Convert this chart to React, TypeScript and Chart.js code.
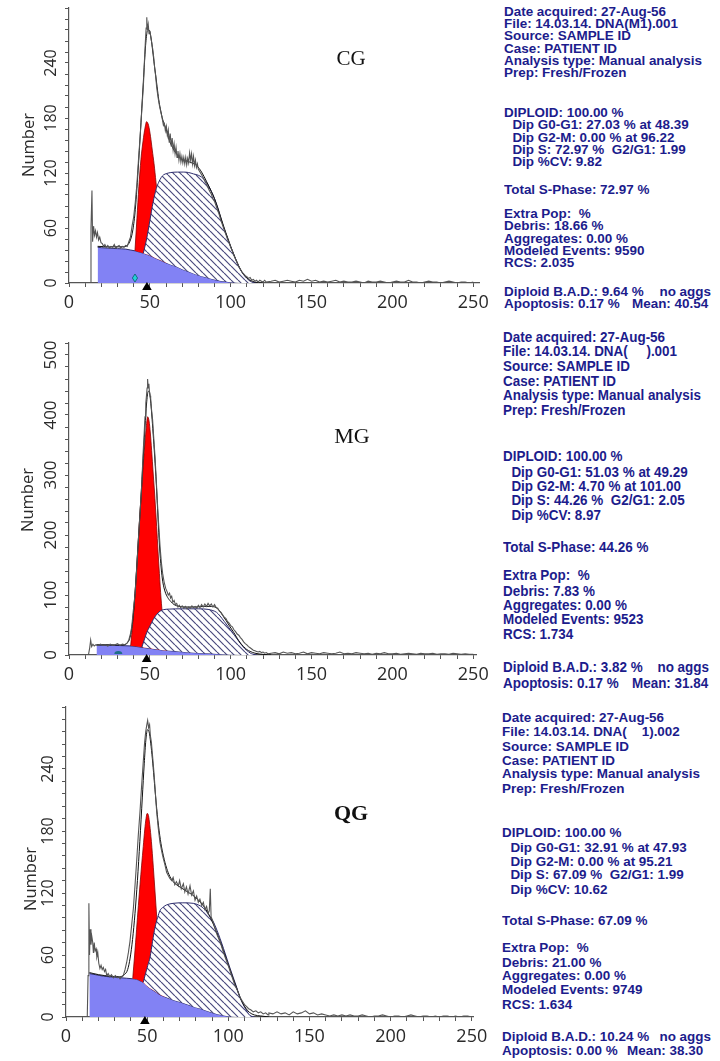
import React, { useEffect, useRef } from 'react';
import { Chart, registerables } from 'chart.js';

Chart.register(...registerables);

type Pt = [number, number];

// ---------------- data ----------------
const tailX = [125, 127.5, 130, 132.5, 135, 137.5, 140, 142.5, 145, 147.5, 150, 152.5, 155, 157.5, 160, 162.5, 165, 167.5, 170, 172.5, 175, 177.5, 180, 182.5, 185, 187.5, 190, 192.5, 195, 197.5, 200, 202.5, 205, 207.5, 210, 212.5, 215, 217.5, 220, 222.5, 225, 227.5, 230, 232.5, 235, 237.5, 240, 242.5, 245, 247.5, 250];

// CG
const cgDebris: Pt[] = [[17.7, 39], [20, 38.5], [25, 38], [30, 37.5], [35, 37], [38, 36], [41, 35], [44, 33.5], [46, 32.5], [50, 30], [53, 27.5], [56.3, 25], [60, 22], [63, 20], [66.6, 17.8], [70, 15], [73, 13], [76.9, 10.5], [80, 8.5], [84, 6.5], [87.2, 5], [91, 3.2], [94, 2.2], [97.5, 1.5], [100, 0.8], [104, 0.2], [108, 0], [116, 0]];
const cgG1: Pt[] = [[40.8, 35.2], [42, 70], [43.2, 105], [44.5, 135], [45.8, 155], [47, 169], [48, 176], [49.2, 172], [50.4, 160], [51.5, 145], [52.6, 130], [53.8, 110], [55, 90], [56.5, 68], [58, 46], [59.3, 32], [60.5, 22.5]];
const cgS: Pt[] = [[46, 32.6], [48, 48], [50, 68], [52, 88], [54, 103], [55.5, 110], [57, 115], [58.5, 118], [60.5, 119.5], [63, 120.5], [67, 121], [71, 121], [74, 120.5], [77, 119], [80, 117.5], [82, 115.5], [84, 112], [86, 107], [88, 100], [90, 92], [92, 82], [94, 70], [96, 59], [98, 49], [100, 39.5], [102, 30.5], [104, 22], [106, 14.5], [108, 9], [110, 5], [112, 2], [114, 0.5], [116, 0]];
const cgFit: Pt[] = [[17.7, 40], [25, 39.5], [33, 39.5], [36, 41], [38, 47], [39.5, 58], [41, 80], [43, 130], [45, 190], [46.5, 235], [47.5, 262], [48.5, 275], [49.5, 276], [50.5, 270], [51.5, 257], [52.5, 242], [53.5, 228], [54.5, 214], [55.5, 200], [56.5, 190], [58, 178], [60, 168], [62, 156], [64, 148], [66, 142], [68, 138], [70, 135], [73, 133], [76, 131], [79, 128], [82, 121], [85, 111], [88, 100], [90, 92], [92, 82], [94, 71], [96, 60], [98, 50], [100, 40], [102, 31], [104, 22.5], [106, 15], [108, 9.5], [110, 5.5], [112, 3], [115, 1], [120, 0]];
const cgRaw: Pt[] = [[13, 0], [13.6, 60], [14.2, 101], [14.6, 45], [15.2, 62], [15.8, 52], [16.4, 57], [17, 50], [17.6, 55], [18.3, 47], [19, 50], [19.8, 44], [20.6, 43], [21.4, 40], [22.2, 42], [23, 39], [24, 41], [25, 38], [26, 40], [27, 39], [28, 42], [29, 38], [30, 40], [31, 41], [32, 38], [33, 40], [34, 39], [35, 41], [36, 40], [37, 45], [38, 50], [39, 62], [40, 72], [41, 88], [42, 108], [43, 135], [44, 160], [45, 188], [46, 215], [46.6, 240], [47.2, 262], [47.7, 278], [48.1, 290], [48.5, 276], [49, 282], [49.5, 272], [50, 275], [50.6, 268], [51.2, 262], [51.8, 255], [52.4, 246], [53, 234], [53.6, 226], [54.2, 214], [54.8, 206], [55.4, 199], [56, 193], [56.6, 188], [57.2, 183], [57.8, 178], [58.4, 172], [59, 174], [59.6, 166], [60.2, 171], [60.8, 161], [61.4, 167], [62, 153], [62.6, 163], [63.2, 149], [63.8, 158], [64.4, 145], [65, 152], [65.6, 141], [66.2, 148], [66.8, 137], [67.4, 144], [68, 134], [68.6, 141], [69.2, 132], [69.8, 138], [70.4, 131], [71, 137], [71.6, 130], [72.2, 137], [72.8, 129], [73.4, 136], [74, 131], [74.6, 142], [75.2, 134], [75.8, 141], [76.4, 130], [77, 138], [77.6, 128], [78.2, 134], [78.8, 126], [79.4, 130], [80, 124], [81, 121], [82, 118], [83, 115], [84, 111], [85, 108], [86, 104], [87, 100], [88, 97], [89, 92], [90, 89], [91, 84], [92, 79], [93, 74], [94, 68], [95, 63], [96, 58], [97, 53], [98, 48], [99, 44], [100, 39], [101, 35], [102, 30], [103, 26], [104, 22], [105, 18], [106, 15], [107, 12], [108, 10], [109, 8], [110, 7], [111, 5], [112, 6], [113, 3], [114, 4], [115, 2], [116, 3], [117, 1], [118, 3], [119, 2], [120, 1], [121, 3], [122, 1]];
const cgTail = [2, 3, 1, 2, 3, 2, 1, 3, 2, 4, 2, 3, 1, 2, 1, 2, 3, 1, 2, 1, 1, 2, 1, 0, 2, 1, 1, 2, 1, 0, 1, 2, 1, 1, 3, 1, 1, 0, 1, 2, 1, 1, 0, 1, 2, 1, 0, 1, 1, 0, 1];

// MG
const mgDebris: Pt[] = [[17, 16.5], [22, 16.5], [28, 16], [34, 15.5], [39, 15], [42, 14], [46, 12.5], [51.5, 10.5], [57, 8.5], [63, 7], [68, 5.8], [75, 4.3], [84.5, 2.8], [92, 1.8], [97, 1], [103, 0.3], [110, 0], [116, 0]];
const mgG1: Pt[] = [[38.1, 15.2], [39.5, 55], [40.9, 105], [42.2, 160], [43.5, 220], [44.9, 275], [46, 320], [47, 355], [47.8, 380], [48.6, 397], [49.5, 390], [50.3, 370], [51.1, 341], [52, 305], [52.8, 275], [53.5, 245], [54.2, 214], [55, 175], [55.9, 136], [56.9, 95], [58, 60], [59.2, 30], [60.5, 9]];
const mgS: Pt[] = [[45, 12.8], [46.5, 25], [48, 37], [50, 48], [52.1, 59], [54, 67], [56.3, 73], [58.3, 75.5], [62, 76.5], [70, 77], [80, 77], [86, 76], [89, 74], [91.3, 71], [93.4, 65], [96, 56], [99.6, 43], [102.5, 32], [105.8, 20], [108.5, 11], [110.9, 5.5], [113, 2], [116, 0]];
const mgFit: Pt[] = [[17, 17], [25, 17], [33, 16.5], [36, 20], [38, 32], [39.5, 60], [41, 110], [42.5, 175], [44, 240], [45.5, 310], [47, 380], [48, 420], [48.8, 438], [49.6, 440], [50.4, 425], [51.2, 400], [52, 370], [53, 330], [54, 285], [55, 230], [56, 180], [57, 145], [58, 122], [59.5, 105], [61, 96], [63, 89], [65, 84], [68, 81], [72, 80], [78, 80], [84, 81], [88, 81], [91, 79], [93, 74], [95, 66], [97, 58], [99.6, 47], [102, 37], [104, 28], [106, 20], [108, 14], [110, 9], [112, 6], [115, 3], [120, 1], [125, 0]];
const mgRaw: Pt[] = [[12, 0], [12.8, 12], [13.4, 25], [14, 14], [14.8, 18], [15.6, 15], [16.5, 17], [18, 16], [19.5, 18], [21, 16], [22.5, 17], [24, 15], [25.5, 18], [27, 16], [28.5, 17], [30, 19], [31.5, 16], [33, 18], [34.5, 17], [36, 20], [37, 25], [38, 35], [38.8, 47], [39.8, 75], [40.9, 103], [41.9, 145], [42.9, 192], [43.9, 236], [44.9, 280], [45.9, 340], [46.5, 370], [47, 397], [47.5, 420], [48, 435], [48.3, 445], [48.6, 460], [49, 445], [49.4, 452], [49.7, 440], [50.1, 432], [50.5, 428], [51, 410], [51.7, 392], [52.4, 362], [53.2, 330], [53.9, 295], [54.6, 258], [55.4, 220], [56.3, 181], [57.1, 155], [57.9, 136], [58.8, 122], [59.8, 111], [60.6, 106], [61.4, 100], [62.2, 103], [62.8, 95], [63.5, 98], [64.2, 88], [65, 91], [65.8, 84], [66.6, 86], [67.4, 80], [68.2, 83], [69, 79], [70, 82], [71, 78], [72, 81], [73, 77], [74, 80], [75, 78], [76, 82], [77, 79], [78, 81], [79, 78], [80, 83], [81, 79], [82, 84], [83, 80], [84, 85], [85, 81], [86, 86], [87, 82], [88, 85], [89, 80], [90, 84], [91, 79], [92, 78], [93, 73], [94, 71], [95, 67], [96, 63], [97, 61], [98, 56], [99, 53], [100, 49], [101, 47], [102, 42], [103, 39], [104, 35], [105, 33], [106, 29], [107, 26], [108, 22], [109, 19], [110, 17], [111, 14], [112, 12], [113, 10], [114, 8], [115, 7], [116, 6], [117, 5], [118, 6], [119, 4], [120, 5], [121, 3], [122, 4], [123, 2]];
const mgTail = [3, 4, 2, 5, 3, 4, 2, 3, 5, 2, 4, 3, 2, 4, 3, 2, 3, 5, 2, 3, 2, 4, 3, 2, 3, 1, 3, 2, 4, 2, 2, 3, 1, 2, 3, 2, 1, 3, 2, 2, 3, 1, 2, 2, 1, 3, 2, 1, 2, 1, 1];

// QG
const qgDebris: Pt[] = [[14.4, 42], [18, 41], [23, 39.5], [30, 38.5], [37.4, 37.5], [41, 37], [43.5, 36.5], [45.6, 35], [47.6, 33.5], [50, 30], [53, 26.5], [55.5, 24], [57.9, 21.5], [61, 19.5], [65, 17], [70.2, 14.5], [75, 12], [78.4, 10], [82.6, 8.2], [87, 5.8], [90.8, 3.8], [94.9, 2.2], [99, 1], [103, 0.2], [108, 0], [116, 0]];
const qgG1: Pt[] = [[41.1, 37.1], [42.3, 60], [43.5, 85], [44.6, 108], [45.6, 128], [46.6, 147], [47.6, 165], [48.5, 181], [49.3, 192], [50, 197], [50.8, 195], [51.6, 186], [52.6, 170], [53.8, 145], [54.9, 120], [55.9, 97], [57, 75], [58.3, 52], [59.6, 33], [61, 20.5]];
const qgS: Pt[] = [[47.6, 33.6], [49, 42], [50.4, 50], [51.8, 58], [53.3, 73], [54.9, 87], [56.4, 96], [57.9, 103], [60, 106.5], [62, 108.5], [66, 110], [72, 110.5], [78.4, 110], [81.5, 108.5], [84.6, 105.5], [87.5, 100], [90.8, 92], [93, 84], [94.9, 76], [97, 66.5], [99, 57], [101, 47.5], [103.1, 38], [105.2, 28.5], [107.2, 19], [109.2, 12], [111.3, 6], [113.4, 1.5], [116, 0]];
const qgFit: Pt[] = [[14.4, 43], [20, 41], [27, 39.5], [33, 39], [36, 41], [38, 46], [39.5, 57], [41, 75], [42.5, 100], [44, 132], [45.5, 170], [47, 212], [48.2, 245], [49.2, 268], [50.2, 278], [51.2, 276], [52.2, 265], [53.2, 250], [54.2, 232], [55.5, 208], [57, 185], [58.5, 168], [60, 156], [62, 144], [64, 136], [66, 131], [69, 127], [72, 124], [75, 121], [78, 118], [81, 114], [84, 109], [87, 102], [89, 96], [91, 89], [93, 81], [95, 73], [97, 64], [99, 55], [101, 46], [103, 37], [105, 28.5], [107, 20], [109, 13], [111, 8], [113, 4.5], [116, 2], [120, 1], [125, 0]];
const qgRaw: Pt[] = [[13.1, 0], [13.6, 40], [14.1, 110], [14.5, 60], [14.9, 85], [15.4, 70], [15.9, 78], [16.4, 73], [16.9, 62], [17.4, 72], [17.9, 64], [18.5, 66], [19, 58], [19.6, 62], [20.2, 52], [20.9, 47], [21.6, 50], [22.3, 46], [23, 48], [23.7, 44], [24.4, 46], [25.1, 40], [26, 42], [27, 39], [28, 41], [29.2, 38], [30.4, 40], [31.5, 38], [32.5, 39], [33.3, 37], [34.3, 39], [35.3, 40], [36.4, 46], [37.4, 53], [38.4, 62], [39.4, 73], [40.4, 88], [41.5, 105], [42.5, 127], [43.5, 150], [44.5, 175], [45.6, 199], [46.6, 224], [47.6, 247], [48.4, 265], [49.1, 276], [49.7, 282], [50.3, 287], [50.9, 280], [51.5, 283], [52, 272], [52.6, 266], [53.2, 255], [53.8, 244], [54.4, 232], [55.1, 216], [55.9, 198], [56.9, 182], [57.9, 169], [59, 160], [60, 153], [61, 147], [62, 140], [63, 137], [64, 134], [65.1, 132], [66, 135], [67, 128], [68, 131], [69.2, 127], [70, 132], [71, 124], [72.3, 129], [73.2, 121], [74.2, 126], [75.2, 119], [76.4, 127], [77.4, 118], [78.5, 122], [79.5, 113], [80.5, 117], [81.5, 111], [82.5, 114], [83.6, 108], [84.6, 111], [85.6, 104], [86.6, 107], [87.6, 100], [88.3, 103], [88.9, 124], [89.4, 97], [90.4, 93], [91.8, 86], [93.2, 79], [94.9, 73], [96.5, 65], [98, 58], [99.5, 52], [101, 45], [102.5, 38], [104, 31], [105.5, 26], [107.2, 19], [108.8, 15], [110, 12], [111.3, 10], [112.5, 8], [113.8, 7], [115.4, 5], [117, 6], [118.5, 4], [120, 5], [121.5, 3], [123, 4], [124.5, 2]];
const qgTail = [4, 3, 5, 3, 4, 2, 5, 3, 4, 6, 3, 4, 2, 3, 2, 1, 2, 1, 2, 1, 2, 1, 1, 2, 1, 0, 1, 1, 2, 1, 0, 1, 1, 0, 1, 2, 1, 0, 1, 1, 0, 1, 0, 1, 1, 0, 1, 0, 1, 1, 0];

// marker positions (x values)
const g1Markers = [48.2, 48.0, 48.6];

// texts
const cgInfo = ['Date acquired: 27-Aug-56', 'File: 14.03.14. DNA(M1).001', 'Source: SAMPLE ID', 'Case: PATIENT ID', 'Analysis type: Manual analysis', 'Prep: Fresh/Frozen', 'DIPLOID: 100.00 %', 'Dip G0-G1: 27.03 % at 48.39', 'Dip G2-M: 0.00 % at 96.22', 'Dip S: 72.97 %  G2/G1: 1.99', 'Dip %CV: 9.82', 'Total S-Phase: 72.97 %', 'Extra Pop:  %', 'Debris: 18.66 %', 'Aggregates: 0.00 %', 'Modeled Events: 9590', 'RCS: 2.035', 'Diploid B.A.D.: 9.64 %', 'Apoptosis: 0.17 %'];
const cgInfoTail = ['no aggs', 'Mean: 40.54'];
const mgInfo = ['Date acquired: 27-Aug-56', 'File: 14.03.14. DNA(     ).001', 'Source: SAMPLE ID', 'Case: PATIENT ID', 'Analysis type: Manual analysis', 'Prep: Fresh/Frozen', 'DIPLOID: 100.00 %', 'Dip G0-G1: 51.03 % at 49.29', 'Dip G2-M: 4.70 % at 101.00', 'Dip S: 44.26 %  G2/G1: 2.05', 'Dip %CV: 8.97', 'Total S-Phase: 44.26 %', 'Extra Pop:  %', 'Debris: 7.83 %', 'Aggregates: 0.00 %', 'Modeled Events: 9523', 'RCS: 1.734', 'Diploid B.A.D.: 3.82 %', 'Apoptosis: 0.17 %'];
const mgInfoTail = ['no aggs', 'Mean: 31.84'];
const qgInfo = ['Date acquired: 27-Aug-56', 'File: 14.03.14. DNA(    1).002', 'Source: SAMPLE ID', 'Case: PATIENT ID', 'Analysis type: Manual analysis', 'Prep: Fresh/Frozen', 'DIPLOID: 100.00 %', 'Dip G0-G1: 32.91 % at 47.93', 'Dip G2-M: 0.00 % at 95.21', 'Dip S: 67.09 %  G2/G1: 1.99', 'Dip %CV: 10.62', 'Total S-Phase: 67.09 %', 'Extra Pop:  %', 'Debris: 21.00 %', 'Aggregates: 0.00 %', 'Modeled Events: 9749', 'RCS: 1.634', 'Diploid B.A.D.: 10.24 %', 'Apoptosis: 0.00 %'];
const qgInfoTail = ['no aggs', 'Mean: 38.30'];
const groupNames = ['CG', 'MG', 'QG'];

// ---------------- layout ----------------
const infoOffsets = [0, 12.3, 24.6, 36.9, 49.2, 61.5, 101.3, 113.6, 125.9, 138.2, 150.5, 178.3, 202.3, 214.6, 226.9, 239.2, 251.5, 280.3, 292.6];

const panels = [
  { name: groupNames[0], debris: cgDebris, g1: cgG1, s: cgS, fit: cgFit, raw: cgRaw, tail: cgTail, marker: g1Markers[0], info: cgInfo, infoTail: cgInfoTail,
    top: 0, h: 315, padTop: 8, padRight: 20.3, yW: 69, xMax: 254, yMax: 300, yStep: 12, yLab: 60, yLabMax: 240, yFont: 16, numX: 29.5, numY: 145,
    infoLeft: 504, infoTop: 11.7, infoSy: 1, aggsEnd: 711, meanX: 632, title: { x: 351, y: 58, bold: false, size: 21 }, extra: 'diamond', extraX: 40.8 },
  { name: groupNames[1], debris: mgDebris, g1: mgG1, s: mgS, fit: mgFit, raw: mgRaw, tail: mgTail, marker: g1Markers[1], info: mgInfo, infoTail: mgInfoTail,
    top: 330, h: 357, padTop: 13, padRight: 23.5, yW: 69, xMax: 252, yMax: 520, yStep: 20, yLab: 100, yLabMax: 500, yFont: 17, numX: 28.5, numY: 500,
    infoLeft: 503, infoTop: 337, infoSy: 1.18, aggsEnd: 709, meanX: 632, title: { x: 352, y: 436, bold: false, size: 22 }, extra: 'dome', extraX: 30.5 },
  { name: groupNames[2], debris: qgDebris, g1: qgG1, s: qgS, fit: qgFit, raw: qgRaw, tail: qgTail, marker: g1Markers[2], info: qgInfo, infoTail: qgInfoTail,
    top: 695, h: 354, padTop: 12, padRight: 26.6, yW: 66, xMax: 251, yMax: 300, yStep: 12, yLab: 60, yLabMax: 240, yFont: 16, numX: 31, numY: 879,
    infoLeft: 502, infoTop: 718, infoSy: 1.136, aggsEnd: 711, meanX: 627, title: { x: 351, y: 813, bold: true, size: 22 }, extra: '', extraX: 0 },
];

const FONT = '"Open Sans", "DejaVu Sans", sans-serif';
const INFO_COLOR = '#1c1c8c';

function makeHatch() {
  const c = document.createElement('canvas');
  const s = 7;
  c.width = s;
  c.height = s;
  const g = c.getContext('2d')!;
  g.fillStyle = '#ffffff';
  g.fillRect(0, 0, s, s);
  g.strokeStyle = '#4a4a7e';
  g.lineWidth = 1.2;
  g.beginPath();
  for (const k of [-1, 0, 1]) {
    g.moveTo(k * s, 0);
    g.lineTo(k * s + s, s);
  }
  g.stroke();
  return g.createPattern(c, 'repeat');
}

function Panel({ p }: { p: any }) {
  const ref = useRef<HTMLCanvasElement>(null);
  useEffect(() => {
    const canvas = ref.current!;
    const hatch = makeHatch();
    const toXY = (a: Pt[]) => a.map(([x, y]) => ({ x, y }));
    const rawAll: Pt[] = [...p.raw, ...tailX.map((x: number, i: number) => [x, p.tail[i]] as Pt)];

    const decor = {
      id: 'decor',
      afterDraw(chart: any) {
        const ctx = chart.ctx;
        const xs = chart.scales.x;
        const ys = chart.scales.y;
        const area = chart.chartArea;
        ctx.save();
        ctx.fillStyle = '#2a2a2a';
        ctx.textAlign = 'center';
        ctx.textBaseline = 'middle';
        ctx.font = `${p.yFont}px ${FONT}`;
        for (const t of ys.ticks) {
          if (t.value % p.yLab !== 0 || t.value > p.yLabMax) continue;
          const py = ys.getPixelForValue(t.value);
          ctx.save();
          ctx.translate(area.left - 19, py);
          ctx.rotate(-Math.PI / 2);
          ctx.fillText(String(t.value), 0, 1);
          ctx.restore();
        }
        ctx.save();
        ctx.font = `16.5px ${FONT}`;
        ctx.translate(p.numX, p.numY - p.top);
        ctx.rotate(-Math.PI / 2);
        ctx.fillText('Number', 0, 0);
        ctx.restore();
        // G1 marker triangle
        const tx = xs.getPixelForValue(p.marker);
        const by = ys.getPixelForValue(0);
        ctx.beginPath();
        ctx.moveTo(tx, by - 1);
        ctx.lineTo(tx + 4.8, by + 7);
        ctx.lineTo(tx - 4.8, by + 7);
        ctx.closePath();
        ctx.fillStyle = '#000';
        ctx.fill();
        if (p.extra === 'diamond') {
          const ex = xs.getPixelForValue(p.extraX);
          ctx.beginPath();
          ctx.moveTo(ex, by - 9);
          ctx.lineTo(ex + 2.6, by - 5);
          ctx.lineTo(ex, by - 1);
          ctx.lineTo(ex - 2.6, by - 5);
          ctx.closePath();
          ctx.fillStyle = '#22d0d8';
          ctx.fill();
          ctx.strokeStyle = '#0a5a6a';
          ctx.lineWidth = 0.8;
          ctx.stroke();
        } else if (p.extra === 'dome') {
          const ex = xs.getPixelForValue(p.extraX);
          ctx.beginPath();
          ctx.ellipse(ex, by - 1, 4, 3, 0, Math.PI, 2 * Math.PI);
          ctx.closePath();
          ctx.fillStyle = '#1e6f86';
          ctx.fill();
        }
        ctx.restore();
      },
    };

    const axisCommon = {
      grid: { drawOnChartArea: false, drawTicks: true, tickLength: 4, tickColor: '#555', tickWidth: 1 },
      border: { display: true, color: '#555', width: 1.2 },
    };

    const chart = new Chart(canvas, {
      type: 'line',
      data: {
        datasets: [
          { data: toXY(p.debris), fill: 'origin', backgroundColor: '#8282f4', borderColor: '#2e2e6e', borderWidth: 1, pointRadius: 0, cubicInterpolationMode: 'monotone', order: 5 },
          { data: toXY(p.g1), fill: '-1', backgroundColor: '#ff0000', borderColor: '#8a0000', borderWidth: 0.8, pointRadius: 0, cubicInterpolationMode: 'monotone', order: 4 },
          { data: toXY(p.s), fill: '-2', backgroundColor: hatch, borderColor: '#2e2e6e', borderWidth: 1, pointRadius: 0, cubicInterpolationMode: 'monotone', order: 3 },
          { data: toXY(p.fit), fill: false, borderColor: '#111', borderWidth: 1, pointRadius: 0, cubicInterpolationMode: 'monotone', order: 2 },
          { data: toXY(rawAll), fill: false, borderColor: '#555', borderWidth: 1.1, pointRadius: 0, tension: 0, order: 1 },
        ],
      },
      options: {
        responsive: false,
        animation: false,
        events: [],
        layout: { padding: { left: 0, top: p.padTop, right: p.padRight, bottom: 0 } },
        plugins: { legend: { display: false }, tooltip: { enabled: false } },
        scales: {
          x: {
            type: 'linear', min: 0, max: p.xMax,
            afterFit: (s: any) => { s.height = 32; },
            ticks: {
              stepSize: 10, autoSkip: false, includeBounds: false, maxRotation: 0, minRotation: 0, padding: 5,
              color: '#2a2a2a', font: { family: FONT, size: 18 },
              callback: (v: any) => (v % 50 === 0 ? String(v) : ''),
            },
            ...axisCommon,
          },
          y: {
            type: 'linear', min: 0, max: p.yMax,
            afterFit: (s: any) => { s.width = p.yW; },
            ticks: { display: false, stepSize: p.yStep, autoSkip: false, includeBounds: false },
            ...axisCommon,
          },
        },
      },
      plugins: [decor],
    } as any);
    return () => chart.destroy();
  }, []);
  return <canvas ref={ref} width={500} height={p.h} style={{ position: 'absolute', left: 0, top: p.top, width: 500, height: p.h }} />;
}

function InfoBlock({ p }: { p: any }) {
  const sx = 1.12;
  return (
    <div style={{ position: 'absolute', left: p.infoLeft, top: p.infoTop - 7 * p.infoSy, transform: `scale(${sx}, ${p.infoSy})`, transformOrigin: '0 0', width: 200 }}>
      {p.info.map((t: string, i: number) => (
        <div key={i} style={{ position: 'absolute', left: i >= 7 && i <= 10 ? 7.5 : 0, top: infoOffsets[i], height: 14, lineHeight: '14px', fontSize: 12, fontWeight: 700, fontFamily: '"Liberation Sans", Arial, sans-serif', color: INFO_COLOR, whiteSpace: 'pre' }}>
          {t}
          {i === 17 ? <span style={{ position: 'absolute', left: (p.aggsEnd - p.infoLeft) / sx, transform: 'translateX(-100%)' }}>{p.infoTail[0]}</span> : null}
          {i === 18 ? <span style={{ position: 'absolute', left: (p.meanX - p.infoLeft) / sx }}>{p.infoTail[1]}</span> : null}
        </div>
      ))}
    </div>
  );
}

export default function App() {
  return (
    <div style={{ position: 'absolute', left: 0, top: 0, width: 720, height: 1061, background: '#fff', overflow: 'hidden' }}>
      {panels.map((p, i) => (
        <React.Fragment key={i}>
          <Panel p={p} />
          <div style={{ position: 'absolute', left: p.title.x, top: p.title.y, transform: 'translate(-50%, -50%)', fontFamily: '"Liberation Serif", "Times New Roman", serif', fontSize: p.title.size, fontWeight: p.title.bold ? 700 : 400, color: '#111', whiteSpace: 'pre' }}>{p.name}</div>
          <InfoBlock p={p} />
        </React.Fragment>
      ))}
    </div>
  );
}
